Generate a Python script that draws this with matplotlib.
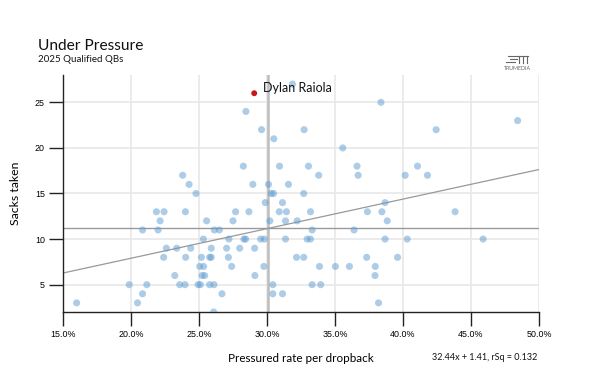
import numpy as np
import matplotlib
matplotlib.use('Agg')
import matplotlib.pyplot as plt
from matplotlib.lines import Line2D
from matplotlib.ticker import FuncFormatter

# pressured rate per dropback (%), sacks taken
pressure_pct = [
    16.0, 19.87, 21.16, 20.85, 20.48, 20.85, 21.99, 21.87, 22.43, 22.14,
    23.8, 24.27, 24.78, 24.0, 22.6, 23.36, 24.39, 22.4, 24.02, 23.22,
    23.58, 23.97, 28.26, 30.92, 28.96, 30.11, 31.58, 30.31, 30.48, 29.87,
    31.14, 27.69, 28.67, 30.9, 31.43, 25.56, 27.5, 30.21, 31.36, 26.13,
    26.5, 25.32, 27.2, 28.3, 28.43, 29.53, 29.8, 31.36, 25.9, 27.03,
    27.99, 29.09, 25.18, 25.78, 25.9, 27.16, 25.05, 25.34, 27.4, 29.77,
    25.22, 25.42, 29.11, 24.93, 25.1, 25.78, 26.1, 30.43, 26.69, 30.43,
    31.14, 26.08, 35.57, 33.05, 36.62, 33.8, 36.7, 32.7, 33.2, 37.38,
    32.22, 33.32, 36.4, 32.95, 33.2, 32.17, 32.7, 37.33, 33.86, 35.03,
    36.06, 37.96, 37.94, 33.32, 33.95, 38.2, 38.38, 48.43, 42.44, 41.07,
    40.16, 41.8, 38.68, 38.45, 43.83, 38.84, 38.68, 40.31, 45.89, 39.6,
    31.87, 28.45, 29.6, 32.73, 30.5,
]
sacks = [
    3, 5, 5, 4, 3, 11, 11, 13, 13, 12,
    17, 16, 15, 13, 9, 9, 9, 8, 8, 6,
    5, 5, 18, 18, 16, 16, 16, 15, 15, 14,
    14, 13, 13, 13, 13, 12, 12, 12, 12, 11,
    11, 10, 10, 10, 10, 10, 10, 10, 9, 9,
    9, 9, 8, 8, 8, 8, 7, 7, 7, 7,
    6, 6, 6, 5, 5, 5, 5, 5, 4, 4,
    4, 2, 20, 18, 18, 17, 17, 15, 13, 13,
    12, 11, 11, 10, 10, 8, 8, 8, 7, 7,
    7, 7, 6, 5, 5, 3, 25, 23, 22, 18,
    17, 17, 14, 13, 13, 12, 10, 10, 10, 8,
    27, 24, 22, 22, 21,
]
hl_name = 'Dylan Raiola'
hl_pct = 29.06
hl_sacks = 26

fit_slope = 32.44
fit_intercept = 1.41
fit_rsq = 0.132

x_ticks = [15, 20, 25, 30, 35, 40, 45, 50]
y_ticks = [5, 10, 15, 20, 25]

x = np.array(pressure_pct) / 100
y = np.array(sacks)
all_x = np.append(x, hl_pct / 100)
all_y = np.append(y, hl_sacks)

fig = plt.figure(figsize=(6.03, 3.77), dpi=100)
fig.patch.set_facecolor('white')
ax = fig.add_axes([63 / 603, 1 - 312 / 377, 476 / 603, 237 / 377])

ax.set_xlim(0.15, 0.50)
ax.set_ylim(2, 28)
ax.set_xticks([t / 100 for t in x_ticks])
ax.set_yticks(y_ticks)
ax.xaxis.set_major_formatter(FuncFormatter(lambda v, p: f'{v*100:.1f}%'))
ax.grid(True, color='#e8e8e8', linewidth=1.2, zorder=0)
ax.set_axisbelow(True)

for s in ['top', 'right']:
    ax.spines[s].set_visible(False)
for s in ['left', 'bottom']:
    ax.spines[s].set_color('#222222')
    ax.spines[s].set_linewidth(1.0)

ax.tick_params(axis='both', length=10, width=1.0, color='#222222',
               labelsize=6.4, pad=3)
for lab in ax.get_xticklabels() + ax.get_yticklabels():
    lab.set_family('Liberation Sans')

# means
ax.axvline(all_x.mean(), color='#bdbdbd', linewidth=1.8, zorder=1)
ax.axhline(all_y.mean(), color='#9a9a9a', linewidth=1.0, zorder=1)

# regression line
xx = np.array([0.15, 0.50])
ax.plot(xx, fit_slope * xx + fit_intercept, color='#999999', linewidth=0.9, zorder=1)

ax.scatter(x, y, s=26, color='#5b9bd1', alpha=0.5, edgecolors='none', zorder=3)
ax.scatter([hl_pct / 100], [hl_sacks], s=18, color='#c4161c', edgecolors='none', zorder=4)
ax.annotate(hl_name, (hl_pct / 100, hl_sacks), xytext=(6, 3.5), textcoords='offset points',
            fontsize=9.0, family='Lato', color='#111111', va='center')

ax.set_xlabel('Pressured rate per dropback', family='Lato', fontsize=8.4)
ax.xaxis.set_label_coords(0.5, -(358 - 312) / 237)
ax.xaxis.label.set_va('center')
ax.set_ylabel('Sacks taken', family='Lato', fontsize=8.8, labelpad=10)

fig.text(38 / 603, 1 - 46 / 377, 'Under Pressure', family='Lato', fontsize=11.2,
         va='center', color='#111111')
fig.text(38 / 603, 1 - 60 / 377, '2025 Qualified QBs', family='Lato', fontsize=7,
         va='center', color='#111111')
fig.text(537 / 603, 1 - 358 / 377,
         f'{fit_slope:.2f}x + {fit_intercept:.2f}, rSq = {fit_rsq:.3f}',
         family='Lato', fontsize=6.5, ha='right', va='center', color='#111111')

# TruMedia mark
fig.text(517 / 603, 1 - 69 / 377, 'TRUMEDIA', family='Lato', fontsize=3.8,
         ha='center', va='center', color='#666666')
for (x0, x1, yy) in [(508, 517, 56), (510, 517, 59), (506, 515, 62)]:
    fig.add_artist(Line2D([x0 / 603, x1 / 603], [1 - yy / 377, 1 - yy / 377],
                          color='#666666', linewidth=0.8))
fig.add_artist(Line2D([517 / 603, 528 / 603], [1 - 56 / 377, 1 - 56 / 377], color='#666666', linewidth=0.8))
for xv in [519, 523, 527]:
    fig.add_artist(Line2D([xv / 603, xv / 603], [1 - 56 / 377, 1 - 63 / 377], color='#666666', linewidth=0.8))

fig.savefig('out.png', dpi=100, facecolor='white')
